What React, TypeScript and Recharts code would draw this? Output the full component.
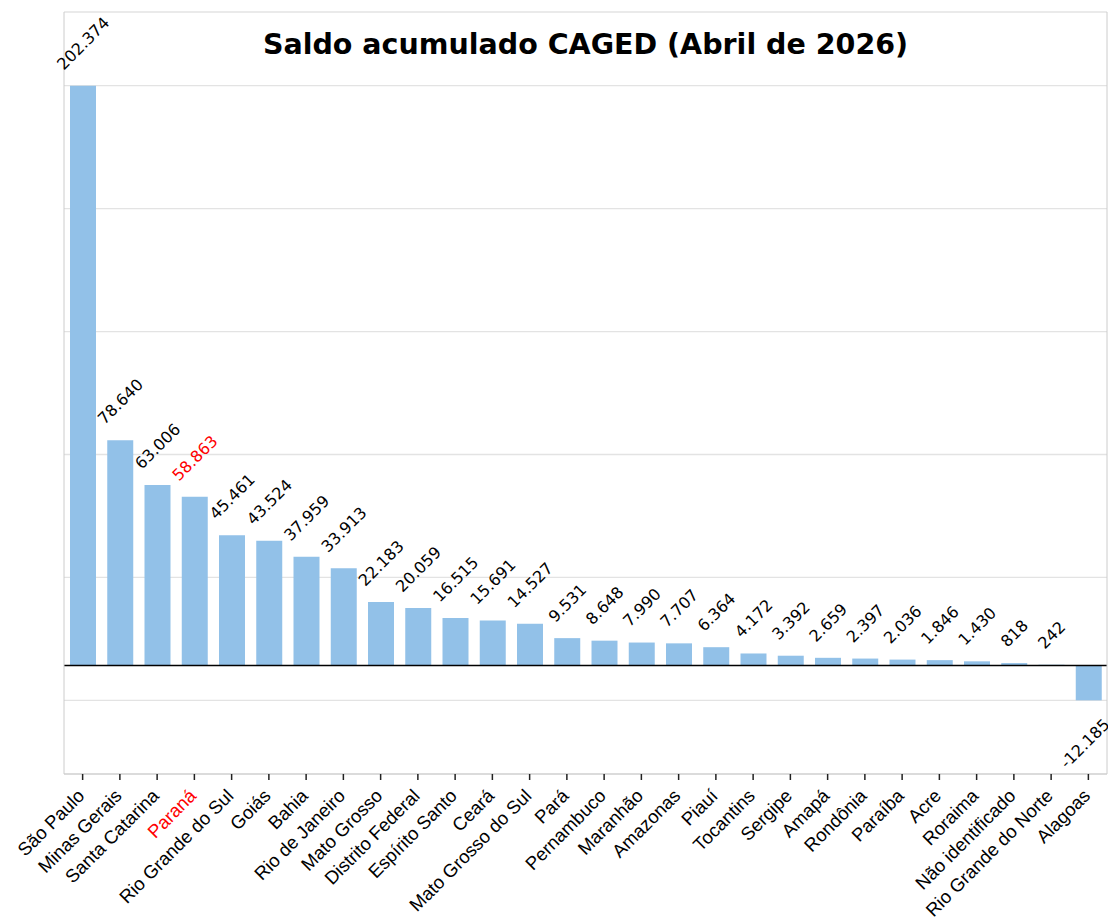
import { BarChart, Bar, XAxis, YAxis, CartesianGrid, ReferenceLine, LabelList } from 'recharts'

const estados = [
  'São Paulo', 'Minas Gerais', 'Santa Catarina', 'Paraná', 'Rio Grande do Sul', 'Goiás', 'Bahia',
  'Rio de Janeiro', 'Mato Grosso', 'Distrito Federal', 'Espírito Santo', 'Ceará', 'Mato Grosso do Sul',
  'Pará', 'Pernambuco', 'Maranhão', 'Amazonas', 'Piauí', 'Tocantins', 'Sergipe', 'Amapá', 'Rondônia',
  'Paraíba', 'Acre', 'Roraima', 'Não identificado', 'Rio Grande do Norte', 'Alagoas',
]

const saldo = [
  202374, 78640, 63006, 58863, 45461, 43524, 37959,
  33913, 22183, 20059, 16515, 15691, 14527,
  9531, 8648, 7990, 7707, 6364, 4172, 3392, 2659, 2397,
  2036, 1846, 1430, 818, 242, -12185,
]

// gridlines sit at min, max and four evenly spaced steps between
const gridTicks = [-12185, 30727, 73639, 116550, 159462, 202374]

const destaque = 'Paraná'
const barColor = '#92c1e8'

const data = estados.map((estado, i) => ({ estado, saldo: saldo[i] }))

const fmt = (v: number) => (v < 0 ? '-' : '') + String(Math.abs(v)).replace(/\B(?=(\d{3})+(?!\d))/g, '.')

// rough DejaVu Sans advance widths (em)
const textWidth = (s: string, fs: number) =>
  s.split('').reduce((acc, c) => acc + (c === '.' ? 0.318 : c === '-' ? 0.361 : 0.636), 0) * fs

const LABEL_FS = 16

function ValueLabel(props: any) {
  const { x, y, width, height, value, index } = props
  const s = fmt(value)
  const L = textWidth(s, LABEL_FS)
  const H = 0.729 * LABEL_FS
  const cx = x + width / 2
  const top = Math.min(y, y + height)
  const bottom = Math.max(y, y + height)
  // negative label sits right on the page edge, pull it in a touch
  const x0 = cx - 0.3535 * (L - H) - (value < 0 ? 4 : 0)
  const y0 = value >= 0 ? top - 15 : bottom + 17 + 0.707 * (L + H)
  const fill = estados[index] === destaque ? '#ff0000' : '#000'
  return (
    <text x={x0} y={y0} transform={`rotate(-45 ${x0} ${y0})`} textAnchor="start"
      fontFamily="DejaVu Sans" fontSize={LABEL_FS} fill={fill}>
      {s}
    </text>
  )
}

function EstadoTick(props: any) {
  const { x, y, payload } = props
  const ax = x + 3
  const ay = y + 17
  return (
    <text x={ax} y={ay} transform={`rotate(-45 ${ax} ${ay})`} textAnchor="end"
      fontFamily="Liberation Sans, Arial, sans-serif" fontSize={18.5}
      fill={payload.value === destaque ? '#ff0000' : '#000'}>
      {payload.value}
    </text>
  )
}

export default function App() {
  return (
    <div style={{ position: 'relative', width: 1108, height: 909 }}>
      <BarChart width={1108} height={909} data={data} margin={{ top: 4, right: 8, bottom: 3, left: 55 }}
        style={{ overflow: 'visible' }}>
        <CartesianGrid vertical={false} stroke="#e3e3e3" strokeWidth={1.3} />
        <XAxis dataKey="estado" interval={0} height={140} tickSize={6} tickMargin={0}
          axisLine={{ stroke: '#cccccc' }} tickLine={{ stroke: '#222', strokeWidth: 1.5 }} tick={<EstadoTick />} />
        <XAxis xAxisId="t" orientation="top" height={0} tick={false} tickLine={false}
          axisLine={{ stroke: '#cccccc' }} />
        <YAxis type="number" domain={[-37900, 228100]} ticks={gridTicks} width={1} interval={0}
          tick={() => <g />} tickLine={false} axisLine={{ stroke: '#cccccc' }} />
        <YAxis yAxisId="r" orientation="right" width={1} tick={() => <g />} tickLine={false}
          axisLine={{ stroke: '#cccccc' }} />
        <ReferenceLine y={0} stroke="#000" strokeWidth={1.5} />
        <Bar dataKey="saldo" fill={barColor} barSize={26} isAnimationActive={false}>
          <LabelList dataKey="saldo" content={<ValueLabel />} />
        </Bar>
      </BarChart>
      <div style={{
        position: 'absolute', top: 23, left: 56, width: 1043, textAlign: 'center',
        fontFamily: 'DejaVu Sans', fontWeight: 'bold', fontSize: 28.5, lineHeight: 1, color: '#000',
      }}>
        Saldo acumulado CAGED (Abril de 2026)
      </div>
    </div>
  )
}
